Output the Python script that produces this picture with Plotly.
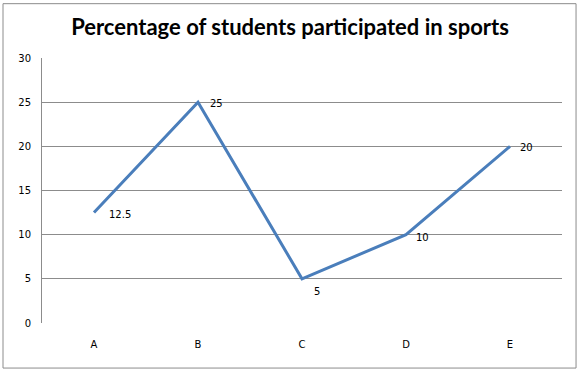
import plotly.graph_objects as go

categories = ["A", "B", "C", "D", "E"]
values = [12.5, 25, 5, 10, 20]
labels = ["12.5", "25", "5", "10", "20"]
y_ticks = [0, 5, 10, 15, 20, 25, 30]

# label offsets in pixels (style only)
label_dx = [13, 10, 10, 8, 8]
label_dy = [-2, -1, -13, -3, -1]

fig = go.Figure()
fig.add_trace(go.Scatter(
    x=categories, y=values, mode="lines",
    line=dict(color="#4A7EBB", width=3),
    showlegend=False, hoverinfo="skip",
))

annotations = []
for c, v, t, dx, dy in zip(categories, values, labels, label_dx, label_dy):
    annotations.append(dict(x=c, y=v, text=t, showarrow=False, xanchor="left",
                            yanchor="middle", xshift=dx, yshift=dy,
                            font=dict(family="DejaVu Sans", size=10, color="#000000")))

fig.update_layout(
    width=580, height=370,
    paper_bgcolor="white", plot_bgcolor="white",
    margin=dict(l=42, r=18, t=58, b=47),
    title=dict(text="<b>Percentage of students participated in sports</b>",
               x=0.5, xanchor="center", y=0.925, yanchor="middle",
               font=dict(family="Lato", size=22, color="#000000")),
    xaxis=dict(type="category", showgrid=False, showline=False, zeroline=False,
               ticks="", tickfont=dict(family="DejaVu Sans", size=10, color="#000"),
               range=[-0.5, 4.5], ticklabelstandoff=14),
    yaxis=dict(range=[0, 30], tickvals=y_ticks, showgrid=True, gridcolor="#8c8c8c",
               gridwidth=1, showline=True, linecolor="#8c8c8c", linewidth=1,
               zeroline=False, ticks="", ticklabelstandoff=8,
               tickfont=dict(family="DejaVu Sans", size=10, color="#000")),
    annotations=annotations,
    shapes=[dict(type="rect", xref="paper", yref="paper", x0=-0.075, x1=1.027,
                 y0=-0.17, y1=1.205, line=dict(color="#8c8c8c", width=1))],
)
fig.write_html("out.html", config={"displayModeBar": False},
               post_script="document.body.style.margin='0';")
